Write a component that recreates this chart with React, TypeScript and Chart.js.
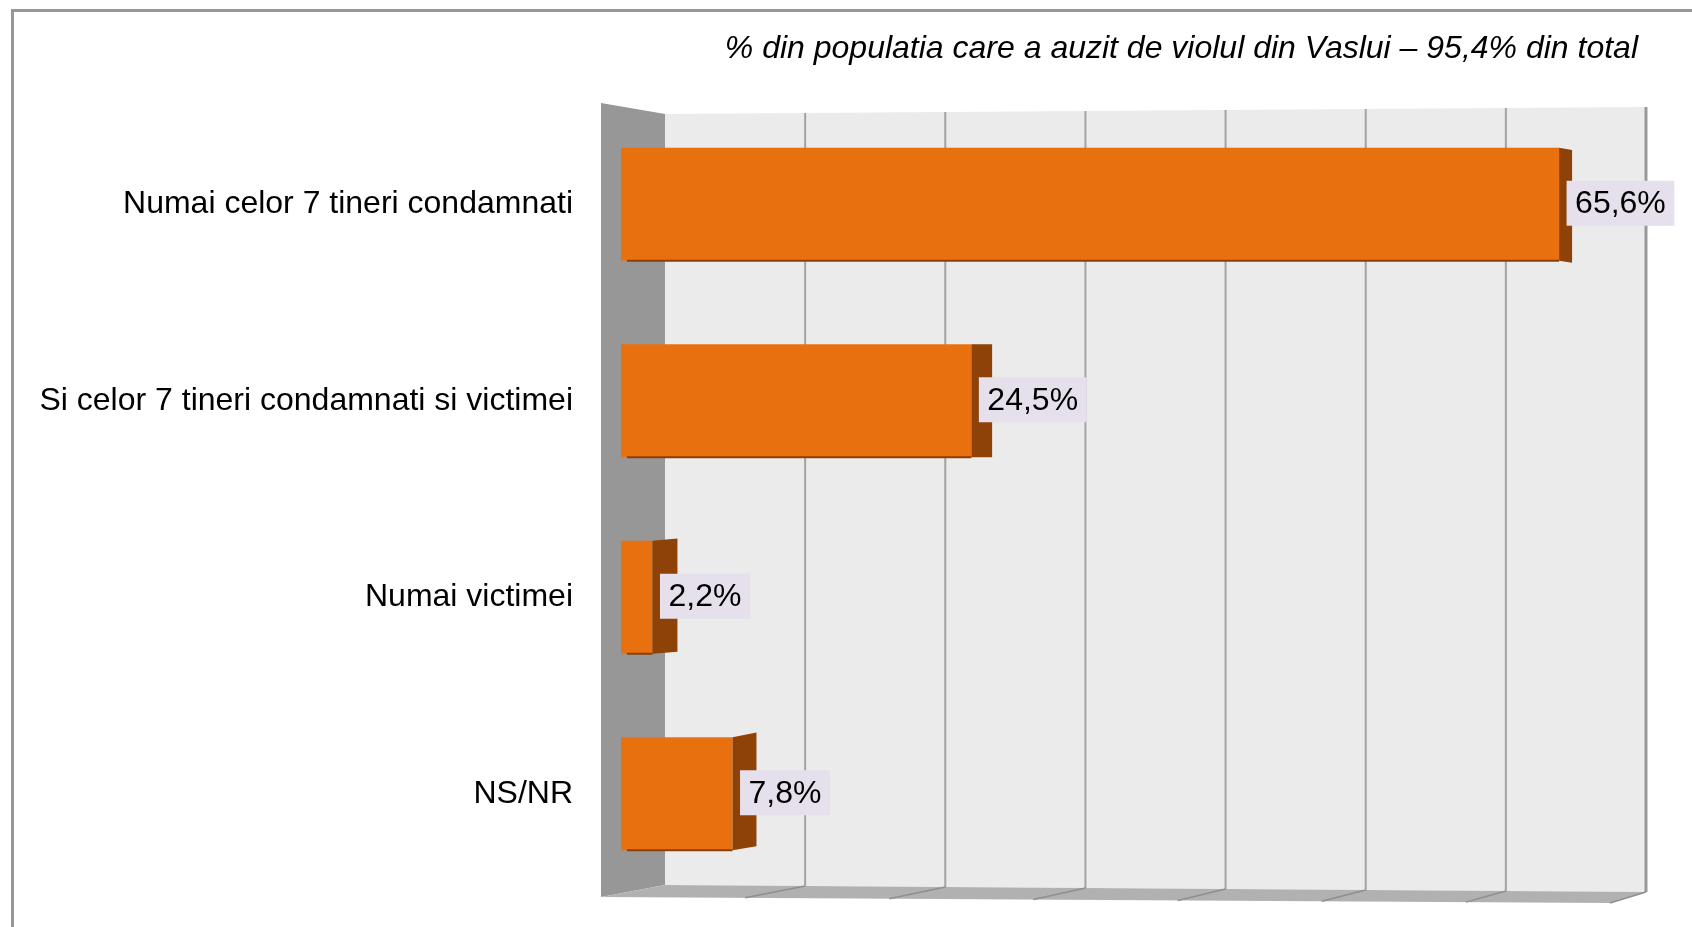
import React, { useEffect, useRef } from "react";
import { Chart, registerables } from "chart.js";

Chart.register(...registerables);

const categories = [
  "Numai celor 7 tineri condamnati",
  "Si celor 7 tineri condamnati si victimei",
  "Numai victimei",
  "NS/NR",
];
const values = [65.6, 24.5, 2.2, 7.8];
const xTicks = [0, 10, 20, 30, 40, 50, 60, 70];
const titleText = "% din populatia care a auzit de violul din Vaslui – 95,4% din total";

const FONT = '"Liberation Sans", Arial, sans-serif';

const fmt = (v: number) => v.toFixed(1).replace(".", ",") + "%";

const scenePlugin = {
  id: "scene3d",
  beforeDraw(chart: any) {
    const ctx = chart.ctx;
    ctx.save();
    ctx.fillStyle = "#ffffff";
    ctx.fillRect(0, 0, chart.width, chart.height);
    // frame (top and left visible)
    ctx.fillStyle = "#979797";
    ctx.fillRect(11, 9, chart.width - 11, 3);
    ctx.fillRect(11, 9, 3, chart.height - 9);
    // title
    ctx.fillStyle = "#000";
    ctx.font = "italic 32px " + FONT;
    ctx.textAlign = "right";
    ctx.textBaseline = "middle";
    ctx.fillText(titleText, 1638, 49);
    ctx.restore();
  },
  beforeDatasetsDraw(chart: any) {
    const ctx = chart.ctx;
    const { left, right, top, bottom } = chart.chartArea;
    const xs = chart.scales.x;
    const backL = left + 44;
    const backR = right + 24;
    const yTopL = top + 8;
    const yTopR = top + 1;
    const yBotL = bottom - 7;
    const yBotR = bottom;
    const frL = left - 20;
    const frR = right - 12;
    const frYL = bottom + 5;
    const frYR = bottom + 11;
    ctx.save();
    // back wall
    ctx.fillStyle = "#ebebeb";
    ctx.beginPath();
    ctx.moveTo(backL, yTopL);
    ctx.lineTo(backR, yTopR);
    ctx.lineTo(backR, yBotR);
    ctx.lineTo(backL, yBotL);
    ctx.closePath();
    ctx.fill();
    // left wall
    ctx.fillStyle = "#979797";
    ctx.beginPath();
    ctx.moveTo(frL, top - 3);
    ctx.lineTo(backL, yTopL);
    ctx.lineTo(backL, yBotL);
    ctx.lineTo(frL, frYL);
    ctx.closePath();
    ctx.fill();
    // floor
    ctx.fillStyle = "#b1b1b1";
    ctx.beginPath();
    ctx.moveTo(frL, frYL);
    ctx.lineTo(backL, yBotL);
    ctx.lineTo(backR, yBotR);
    ctx.lineTo(frR, frYR);
    ctx.closePath();
    ctx.fill();
    // gridlines
    xTicks.forEach((v) => {
      if (v === 0) return;
      const t = (xs.getPixelForValue(v) - left) / (right - left);
      const xb = backL + t * (backR - backL);
      const yt = yTopL + t * (yTopR - yTopL);
      const yb = yBotL + t * (yBotR - yBotL);
      const xf = frL + t * (frR - frL);
      const yf = frYL + t * (frYR - frYL);
      const last = v === xTicks[xTicks.length - 1];
      ctx.strokeStyle = last ? "#999999" : "#a3a3a3";
      ctx.lineWidth = last ? 3 : 2;
      ctx.beginPath();
      ctx.moveTo(xb, yt);
      ctx.lineTo(xb, yb);
      ctx.stroke();
      ctx.strokeStyle = "#8f8f8f";
      ctx.lineWidth = 1.5;
      ctx.beginPath();
      ctx.moveTo(xb, yb);
      ctx.lineTo(xf, yf);
      ctx.stroke();
    });
    ctx.restore();
  },
  afterDatasetsDraw(chart: any) {
    const ctx = chart.ctx;
    const { left } = chart.chartArea;
    const meta = chart.getDatasetMeta(0);
    const yRef = chart.scales.y.getPixelForValue(1);
    ctx.save();
    meta.data.forEach((bar: any, i: number) => {
      const x = bar.x;
      const y = bar.y;
      const h = bar.height;
      const top = y - h / 2;
      const bottom = y + h / 2;
      const w = 25 - 0.0132 * (x - (left + 30));
      const dyT = (yRef - y) * 0.012;
      const dyB = (yRef - y) * 0.01;
      // bottom shadow
      ctx.fillStyle = "#8a3f08";
      ctx.fillRect(left + 6, bottom - 1, x - left - 6, 2);
      // side face
      ctx.fillStyle = "#8e4207";
      ctx.beginPath();
      ctx.moveTo(x, top);
      ctx.lineTo(x + w, top + dyT);
      ctx.lineTo(x + w, bottom + dyB);
      ctx.lineTo(x, bottom);
      ctx.closePath();
      ctx.fill();
      // label box
      const txt = fmt(values[i]);
      ctx.font = "32px " + FONT;
      const tw = ctx.measureText(txt).width;
      const bx = x + 7.5;
      const bh = 45;
      const by = y - 1 - bh / 2;
      ctx.fillStyle = "#e5e0ec";
      ctx.fillRect(bx, by, tw + 17, bh);
      ctx.fillStyle = "#000";
      ctx.textAlign = "left";
      ctx.textBaseline = "middle";
      ctx.fillText(txt, bx + 8.5, y);
    });
    ctx.restore();
  },
};

export default function App() {
  const ref = useRef<HTMLCanvasElement | null>(null);
  useEffect(() => {
    if (!ref.current) return;
    const chart = new Chart(ref.current, {
      type: "bar",
      data: {
        labels: categories,
        datasets: [
          {
            data: values,
            backgroundColor: "#e8700f",
            borderWidth: 0,
            barPercentage: 0.575,
            categoryPercentage: 1,
          },
        ],
      },
      options: {
        indexAxis: "y",
        responsive: false,
        animation: false,
        layout: { padding: { top: 106, bottom: 35, right: 70, left: 0 } },
        plugins: {
          legend: { display: false },
          title: { display: false },
          tooltip: { enabled: false },
        },
        scales: {
          x: {
            min: 0,
            max: 70,
            display: false,
            ticks: { stepSize: 10 },
          },
          y: {
            type: "category",
            grid: { display: false, drawTicks: false },
            border: { display: false },
            ticks: {
              color: "#000",
              padding: 48,
              font: { size: 32, family: FONT },
            },
            afterFit: (scale: any) => {
              scale.width = 621;
              scale.paddingTop = 0;
              scale.paddingBottom = 0;
            },
          },
        },
      },
      plugins: [scenePlugin],
    });
    return () => chart.destroy();
  }, []);
  return (
    <div style={{ position: "fixed", left: 0, top: 0, width: 1692, height: 927 }}>
      <canvas ref={ref} width={1692} height={927} style={{ display: "block", width: 1692, height: 927 }} />
    </div>
  );
}
